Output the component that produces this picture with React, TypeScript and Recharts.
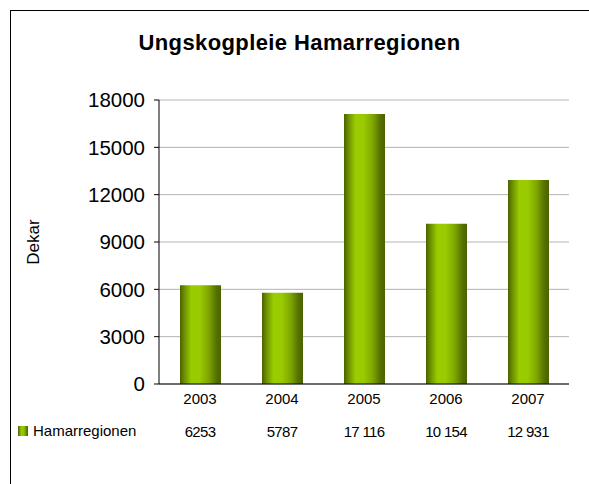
import { BarChart, Bar, XAxis, YAxis, CartesianGrid } from "recharts";

const years = ["2003", "2004", "2005", "2006", "2007"];
const dekar = [6253, 5787, 17116, 10154, 12931];
const yTicks = [0, 3000, 6000, 9000, 12000, 15000, 18000];
const seriesName = "Hamarregionen";

const data = years.map((year, i) => ({ year, value: dekar[i] }));

const FONT = "'Liberation Sans', Arial, sans-serif";

// Norwegian style: space as thousands separator from 5 digits
const fmt = (v: number) =>
  v >= 10000 ? `${Math.floor(v / 1000)} ${String(v % 1000).padStart(3, "0")}` : String(v);

const YearTick = ({ x, y, payload, index }: any) => (
  <g>
    <text x={x} y={y + 12} textAnchor="middle" fontFamily={FONT} fontSize={15} fill="#000">
      {payload.value}
    </text>
    <text
      x={x}
      y={y + 45}
      textAnchor="middle"
      fontFamily={FONT}
      fontSize={15}
      letterSpacing={-0.7}
      fill="#000"
    >
      {fmt(dekar[index])}
    </text>
  </g>
);

export default function App() {
  return (
    <div
      style={{
        position: "absolute",
        left: 0,
        top: 0,
        width: 589,
        height: 484,
        background: "#fff",
        overflow: "hidden",
      }}
    >
      <div
        style={{
          position: "absolute",
          left: 10,
          top: 10,
          width: 600,
          height: 500,
          borderTop: "1px solid #000",
          borderLeft: "1px solid #000",
        }}
      />
      <div
        style={{
          position: "absolute",
          left: 10,
          width: 579,
          top: 30,
          textAlign: "center",
          fontFamily: FONT,
          fontWeight: 700,
          fontSize: 22,
          letterSpacing: 0.4,
          color: "#000",
        }}
      >
        Ungskogpleie Hamarregionen
      </div>
      <BarChart
        width={589}
        height={484}
        data={data}
        margin={{ top: 100, right: 20, bottom: 60, left: 10 }}
        barCategoryGap="25%"
        style={{ position: "absolute", left: 0, top: 0 }}
      >
        <defs>
          <linearGradient id="barGrad" x1="0" y1="0" x2="1" y2="0">
            <stop offset="0%" stopColor="#4a6300" />
            <stop offset="10%" stopColor="#6a8d00" />
            <stop offset="28%" stopColor="#9acd00" />
            <stop offset="48%" stopColor="#99cb00" />
            <stop offset="70%" stopColor="#7fa600" />
            <stop offset="88%" stopColor="#567300" />
            <stop offset="100%" stopColor="#4a6200" />
          </linearGradient>
        </defs>
        <CartesianGrid vertical={false} stroke="#b3b3b3" />
        <XAxis
          dataKey="year"
          axisLine={{ stroke: "#000" }}
          tickLine={false}
          height={40}
          interval={0}
          tick={<YearTick />}
        />
        <YAxis
          width={149}
          domain={[0, 18000]}
          ticks={yTicks}
          interval={0}
          axisLine={{ stroke: "#000" }}
          tickLine={{ stroke: "#000" }}
          tickSize={5}
          tickMargin={9}
          tick={{ fontFamily: FONT, fontSize: 20.5, fill: "#000" }}
          label={{
            value: "Dekar",
            angle: -90,
            position: "insideLeft",
            offset: 23,
            style: { fontFamily: FONT, fontSize: 17, fill: "#000", textAnchor: "middle" },
          }}
        />
        <Bar dataKey="value" name={seriesName} fill="url(#barGrad)" barSize={41} isAnimationActive={false} />
      </BarChart>
      <div
        style={{
          position: "absolute",
          left: 18,
          top: 422,
          display: "flex",
          alignItems: "center",
          fontFamily: FONT,
          fontSize: 15,
          color: "#000",
        }}
      >
        <svg width={10} height={10} style={{ marginRight: 5 }}>
          <defs>
            <linearGradient id="barGradLegend" x1="0" y1="0" x2="1" y2="0">
              <stop offset="0%" stopColor="#4d6600" />
              <stop offset="35%" stopColor="#9acd00" />
              <stop offset="60%" stopColor="#8fbf00" />
              <stop offset="100%" stopColor="#4a6200" />
            </linearGradient>
          </defs>
          <rect width={10} height={10} fill="url(#barGradLegend)" />
        </svg>
        <span>{seriesName}</span>
      </div>
    </div>
  );
}
